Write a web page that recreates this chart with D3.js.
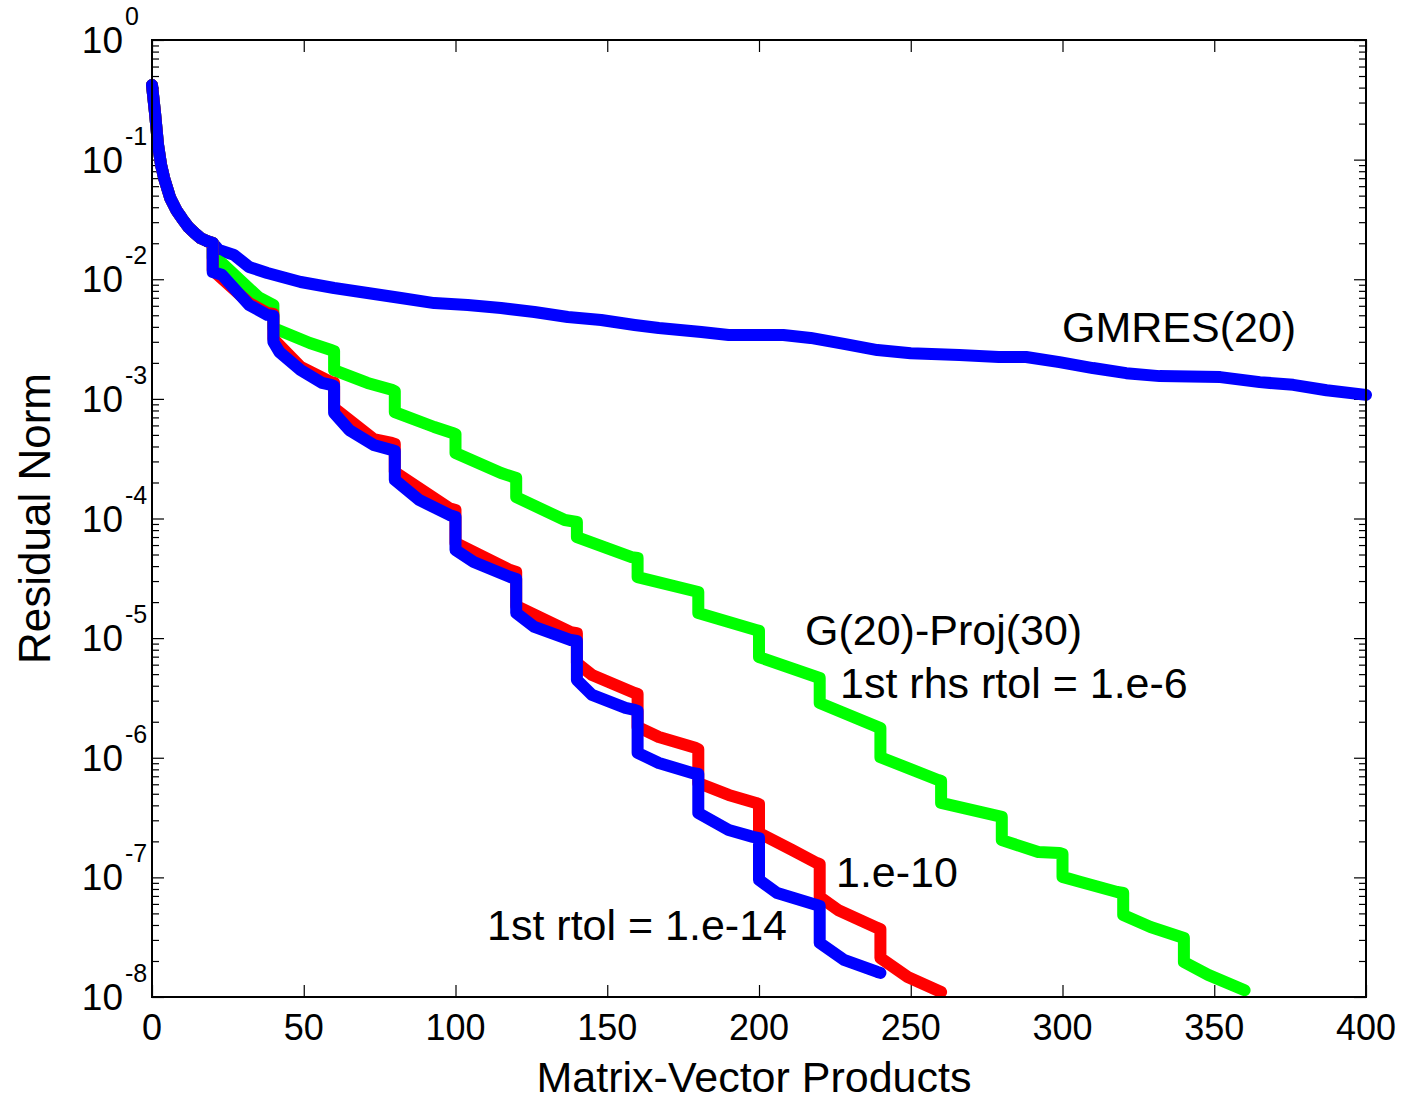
<!DOCTYPE html>
<html>
<head>
<meta charset="utf-8">
<script src="https://cdn.jsdelivr.net/npm/d3@7"></script>
<style>
  body { margin: 0; background: #fff; }
  text { font-family: "Liberation Sans", Arial, sans-serif; fill: #000; }
</style>
</head>
<body>
<svg id="chart" width="1402" height="1102"></svg>
<script>
// first restart cycle, shared by every run  [matvecs, residual norm]
var headPts = [[0, 0.42], [1, 0.245], [2, 0.132], [3, 0.090], [4, 0.070], [6, 0.0478], [8, 0.0379],
    [10, 0.0319], [12, 0.0273], [14, 0.0244], [16, 0.0221], [18, 0.0209], [20, 0.0201]];

var gmresPts = [[22, 0.0176], [27, 0.0160], [32, 0.01265], [38, 0.01127], [49, 0.00948], [60, 0.00845],
    [71, 0.00767], [82, 0.00697], [93, 0.00632], [104, 0.00610], [115, 0.00575], [126, 0.00532],
    [137, 0.00483], [148, 0.00456], [159, 0.00415], [167, 0.00391], [181, 0.00362], [190, 0.00342],
    [208, 0.00342], [217, 0.00323], [228, 0.00288], [239, 0.00256], [250, 0.00241], [266, 0.00233],
    [279, 0.00224], [288, 0.00224], [299, 0.00203], [310, 0.00181], [321, 0.00164], [332, 0.00155],
    [352, 0.00152], [365, 0.00138], [376, 0.00131], [387, 0.00118], [400, 0.00108]];

var rhs6Pts = [[20, 1.51e-2], [23, 1.37e-2], [35, 7.11e-3], [40, 6.09e-3], [40, 3.91e-3], [52, 2.93e-3],
    [59, 2.56e-3], [60, 2.51e-3], [60, 1.74e-3], [71, 1.36e-3], [79, 1.19e-3], [80, 1.16e-3],
    [80, 7.76e-4], [93, 5.82e-4], [99, 5.19e-4], [100, 5.08e-4], [100, 3.53e-4], [115, 2.40e-4],
    [120, 2.18e-4], [120, 1.51e-4], [136, 9.71e-5], [140, 9.35e-5], [140, 7.00e-5], [158, 4.76e-5],
    [160, 4.68e-5], [160, 3.24e-5], [180, 2.43e-5], [180, 1.62e-5], [199, 1.17e-5], [200, 1.15e-5],
    [200, 6.95e-6], [219, 4.73e-6], [220, 4.64e-6], [220, 2.87e-6], [240, 1.77e-6], [240, 1.01e-6],
    [259, 6.52e-7], [260, 6.39e-7], [260, 4.19e-7], [280, 3.20e-7], [280, 2.05e-7], [292, 1.63e-7],
    [299, 1.60e-7], [300, 1.57e-7], [300, 1.01e-7], [306, 9.14e-8], [318, 7.55e-8], [320, 7.40e-8],
    [320, 4.84e-8], [329, 3.85e-8], [339, 3.17e-8], [340, 3.11e-8], [340, 1.96e-8], [348, 1.53e-8],
    [360, 1.14e-8]];

var rtol10Pts = [[20, 1.19e-2], [32, 6.33e-3], [38, 5.22e-3], [40, 5.12e-3], [40, 3.17e-3], [49, 1.85e-3],
    [59, 1.38e-3], [60, 1.36e-3], [60, 8.39e-4], [73, 4.62e-4], [79, 4.28e-4], [80, 4.20e-4],
    [80, 2.45e-4], [98, 1.22e-4], [100, 1.18e-4], [100, 6.24e-5], [118, 3.71e-5], [120, 3.57e-5],
    [120, 1.86e-5], [138, 1.12e-5], [140, 1.10e-5], [140, 6.20e-6], [145, 4.92e-6], [159, 3.48e-6],
    [160, 3.41e-6], [160, 1.81e-6], [167, 1.49e-6], [179, 1.21e-6], [180, 1.18e-6], [180, 6.15e-7],
    [190, 4.89e-7], [199, 4.19e-7], [200, 4.10e-7], [200, 2.35e-7], [211, 1.69e-7], [219, 1.32e-7],
    [220, 1.29e-7], [220, 6.86e-8], [226, 5.34e-8], [239, 3.78e-8], [240, 3.70e-8], [240, 2.12e-8],
    [249, 1.47e-8], [260, 1.10e-8]];

var rtol14Pts = [[20, 1.15e-2], [23, 1.09e-2], [32, 6.09e-3], [38, 5.03e-3], [40, 4.93e-3], [40, 2.99e-3],
    [42, 2.46e-3], [49, 1.74e-3], [56, 1.36e-3], [59, 1.31e-3], [60, 1.28e-3], [60, 7.62e-4],
    [65, 5.49e-4], [73, 4.12e-4], [79, 3.74e-4], [80, 3.67e-4], [80, 2.10e-4], [88, 1.43e-4],
    [98, 1.07e-4], [100, 1.03e-4], [100, 5.46e-5], [106, 4.33e-5], [118, 3.24e-5], [120, 3.12e-5],
    [120, 1.62e-5], [126, 1.24e-5], [138, 9.64e-6], [140, 9.46e-6], [140, 4.47e-6], [145, 3.35e-6],
    [156, 2.61e-6], [159, 2.51e-6], [160, 2.46e-6], [160, 1.10e-6], [167, 9.04e-7], [178, 7.46e-7],
    [180, 7.32e-7], [180, 3.45e-7], [190, 2.49e-7], [198, 2.18e-7], [200, 2.13e-7], [200, 9.51e-8],
    [206, 7.40e-8], [219, 5.87e-8], [220, 5.77e-8], [220, 2.83e-8], [228, 2.04e-8], [239, 1.62e-8],
    [240, 1.59e-8]];

var xTicks = [0, 50, 100, 150, 200, 250, 300, 350, 400];
var yExponents = [0, -1, -2, -3, -4, -5, -6, -7, -8];

var svg = d3.select("#chart");
var plotL = 152, plotR = 1366, plotT = 40, plotB = 997;

var x = d3.scaleLinear().domain([0, 400]).range([plotL, plotR]);
var y = d3.scaleLog().domain([1e-8, 1]).range([plotB, plotT]);

// minor ticks on the log axis: 2..9 times each decade
var yMajor = yExponents.map(function (e) { return Math.pow(10, e); });
var yMinor = [];
for (var e = -8; e < 0; e++) {
    for (var m = 2; m <= 9; m++) yMinor.push(m * Math.pow(10, e));
}

// inward ticks on all four sides
svg.append("g").attr("transform", "translate(0," + plotB + ")")
    .call(d3.axisBottom(x).tickValues(xTicks).tickSize(-12).tickFormat(""));
svg.append("g").attr("transform", "translate(0," + plotT + ")")
    .call(d3.axisTop(x).tickValues(xTicks).tickSize(-12).tickFormat(""));
svg.append("g").attr("transform", "translate(" + plotL + ",0)")
    .call(d3.axisLeft(y).tickValues(yMajor).tickSize(-12).tickFormat(""));
svg.append("g").attr("transform", "translate(" + plotL + ",0)")
    .call(d3.axisLeft(y).tickValues(yMinor).tickSize(-7).tickFormat(""));
svg.append("g").attr("transform", "translate(" + plotR + ",0)")
    .call(d3.axisRight(y).tickValues(yMajor).tickSize(-12).tickFormat(""));
svg.append("g").attr("transform", "translate(" + plotR + ",0)")
    .call(d3.axisRight(y).tickValues(yMinor).tickSize(-7).tickFormat(""));

svg.selectAll(".domain").remove();
svg.selectAll(".tick line").attr("stroke", "#000").attr("stroke-width", 1.2);

// curves
var line = d3.line()
    .x(function (d) { return x(d[0]); })
    .y(function (d) { return y(d[1]); });

var series = [
    { pts: headPts.concat(gmresPts), color: "#0000ff" },
    { pts: headPts.concat(rhs6Pts), color: "#00ff00" },
    { pts: headPts.concat(rtol10Pts), color: "#ff0000" },
    { pts: headPts.concat(rtol14Pts), color: "#0000ff" }
];

svg.selectAll("path.curve").data(series).enter().append("path")
    .attr("class", "curve")
    .attr("d", function (d) { return line(d.pts); })
    .attr("fill", "none")
    .attr("stroke", function (d) { return d.color; })
    .attr("stroke-width", 12)
    .attr("stroke-linejoin", "round")
    .attr("stroke-linecap", "round");

// frame
svg.append("rect")
    .attr("x", plotL).attr("y", plotT)
    .attr("width", plotR - plotL).attr("height", plotB - plotT)
    .attr("fill", "none").attr("stroke", "#000").attr("stroke-width", 2);

// tick labels
svg.selectAll("text.xlab").data(xTicks).enter().append("text")
    .attr("class", "xlab")
    .attr("x", function (d) { return x(d); })
    .attr("y", plotB + 43)
    .attr("text-anchor", "middle")
    .style("font-size", "36px")
    .text(function (d) { return d; });

svg.selectAll("text.ylab").data(yExponents).enter().append("text")
    .attr("class", "ylab")
    .attr("x", 123)
    .attr("y", function (d) { return y(Math.pow(10, d)) + 13; })
    .attr("text-anchor", "end")
    .style("font-size", "37px")
    .text("10");

svg.selectAll("text.yexp").data(yExponents).enter().append("text")
    .attr("class", "yexp")
    .attr("x", 125)
    .attr("y", function (d) { return y(Math.pow(10, d)) - 15; })
    .style("font-size", "25px")
    .text(function (d) { return d === 0 ? "0" : "-" + Math.abs(d); });

// axis titles
svg.append("text")
    .attr("x", 754).attr("y", 1092)
    .attr("text-anchor", "middle")
    .style("font-size", "43px")
    .text("Matrix-Vector Products");

svg.append("text")
    .attr("transform", "translate(50," + ((plotT + plotB) / 2) + ") rotate(-90)")
    .attr("text-anchor", "middle")
    .style("font-size", "44px")
    .text("Residual Norm");

// annotations
var notes = [
    { t: "GMRES(20)", x: 1062, y: 342 },
    { t: "G(20)-Proj(30)", x: 805, y: 645 },
    { t: "1st rhs rtol = 1.e-6", x: 840, y: 698 },
    { t: "1.e-10", x: 836, y: 887 },
    { t: "1st rtol = 1.e-14", x: 487, y: 940 }
];
svg.selectAll("text.note").data(notes).enter().append("text")
    .attr("class", "note")
    .attr("x", function (d) { return d.x; })
    .attr("y", function (d) { return d.y; })
    .style("font-size", "43px")
    .text(function (d) { return d.t; });
</script>
</body>
</html>
